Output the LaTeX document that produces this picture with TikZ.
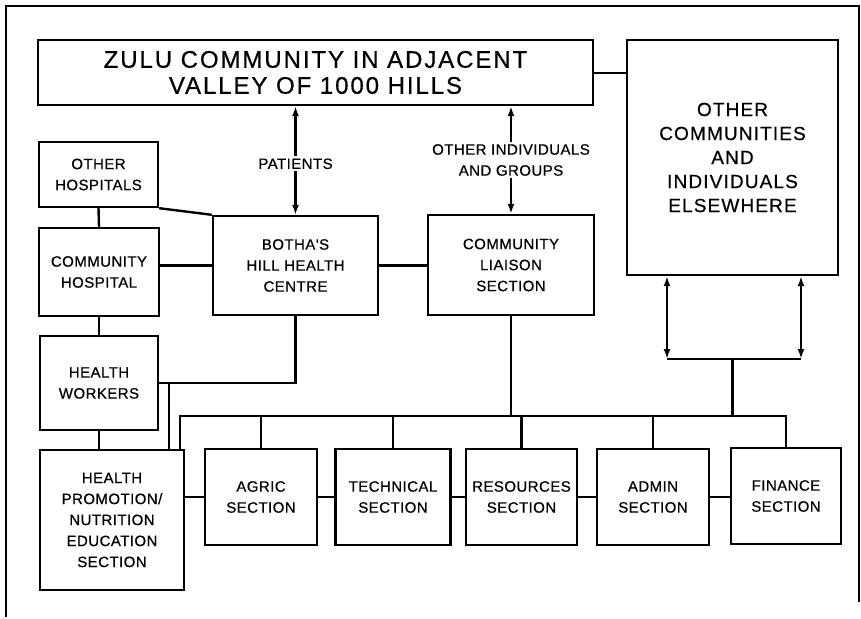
\documentclass[tikz,border=0pt]{standalone}
\usepackage{fontspec}
\usetikzlibrary{arrows.meta}
\newfontfamily\lblfont[LetterSpace=3,FakeBold=0.6]{Liberation Sans}
\newfontfamily\zulufont[LetterSpace=8,FakeBold=0.6]{Liberation Sans}
\newfontfamily\otherfont[LetterSpace=6,FakeBold=0.6]{Liberation Sans}
\begin{document}
\begin{tikzpicture}[x=1pt,y=-1pt,line width=2.4pt,
  box/.style={draw,rectangle,inner sep=0pt,align=center,
    font=\lblfont\fontsize{15}{21}\selectfont},
  arr/.style={{Latex[length=10pt,width=7pt]}-{Latex[length=10pt,width=7pt]}},
  lab/.style={fill=white,inner sep=2pt,align=center,
    font=\lblfont\fontsize{15}{21}\selectfont}]
\useasboundingbox (0,0) rectangle (861,618);
% frame
\draw (6,617) -- (6,6) -- (859,6) -- (859,602);
% boxes
\node[box,minimum width=555pt,minimum height=65pt,
  font=\zulufont\fontsize{24}{26}\selectfont] (zulu) at (315.5,72.5)
  {ZULU COMMUNITY IN ADJACENT\\VALLEY OF 1000 HILLS};
\node[box,minimum width=211pt,minimum height=235pt,
  font=\otherfont\fontsize{19}{24}\selectfont] (other) at (732.5,157.5)
  {OTHER\\COMMUNITIES\\AND\\INDIVIDUALS\\ELSEWHERE};
\node[box,minimum width=119pt,minimum height=65pt] (ohosp) at (98.5,174.5) {OTHER\\HOSPITALS};
\node[box,minimum width=120pt,minimum height=88pt] (chosp) at (99,272) {COMMUNITY\\HOSPITAL};
\node[box,minimum width=118pt,minimum height=94pt] (hw) at (99,383) {HEALTH\\WORKERS};
\node[box,minimum width=165pt,minimum height=99pt] (botha) at (295.5,265.5) {BOTHA'S\\HILL HEALTH\\CENTRE};
\node[box,minimum width=166pt,minimum height=100pt] (liaison) at (511,265) {COMMUNITY\\LIAISON\\SECTION};
\node[box,minimum width=144pt,minimum height=140pt] (hp) at (112,520) {HEALTH\\PROMOTION/\\NUTRITION\\EDUCATION\\SECTION};
\node[box,minimum width=112pt,minimum height=96pt] (agric) at (261,497) {AGRIC\\SECTION};
\node[box,minimum width=115pt,minimum height=96pt] (tech) at (393,497) {TECHNICAL\\SECTION};
\node[box,minimum width=111pt,minimum height=96pt] (res) at (521.5,497) {RESOURCES\\SECTION};
\node[box,minimum width=112pt,minimum height=96pt] (admin) at (653,497) {ADMIN\\SECTION};
\node[box,minimum width=110pt,minimum height=96pt] (fin) at (786,496) {FINANCE\\SECTION};
% junction coordinates
\coordinate (busL) at (180,416);
\coordinate (j1) at (169,383);
\coordinate (br1) at (667,359);
\coordinate (br2) at (801,359);
% top connectors
\draw (zulu.east |- 0,73) -- (other.west |- 0,73);
\draw[arr] (botha.north) -- (botha.north |- zulu.south)
  node[lab,pos=0.47] (patients) {PATIENTS};
\draw[arr] (liaison.north) -- (liaison.north |- zulu.south)
  node[lab,pos=0.5] (oig) {OTHER INDIVIDUALS\\AND GROUPS};
% left cluster
\draw (ohosp.south east) -- (botha.north west);
\draw (ohosp.south) -- (chosp.north);
\draw (chosp.east |- botha.west) -- (botha.west);
\draw (botha.east) -- (liaison.west |- botha.east);
\draw (chosp.south) -- (hw.north);
\draw (botha.south) |- (hw.east);
\draw (j1) -- (j1 |- hp.north);
\draw (hw.south) -- (hw.south |- hp.north);
% bus
\draw (busL |- hp.north) -- (busL) -| (fin.north);
\draw (agric.north) -- (agric.north |- busL);
\draw (tech.north) -- (tech.north |- busL);
\draw (res.north) -- (res.north |- busL);
\draw (admin.north) -- (admin.north |- busL);
\draw (liaison.south) -- (liaison.south |- busL);
% bracket under other
\draw[arr] (br1 |- other.south) -- (br1);
\draw[arr] (br2 |- other.south) -- (br2);
\draw (br1) -- (br2);
\draw (br1 -| other.south) -- (busL -| other.south);
% bottom row links
\draw (hp.east |- agric.west) -- (agric.west);
\draw (agric.east) -- (tech.west);
\draw (tech.east) -- (res.west);
\draw (res.east) -- (admin.west);
\draw (admin.east) -- (fin.west |- admin.east);
\end{tikzpicture}
\end{document}
